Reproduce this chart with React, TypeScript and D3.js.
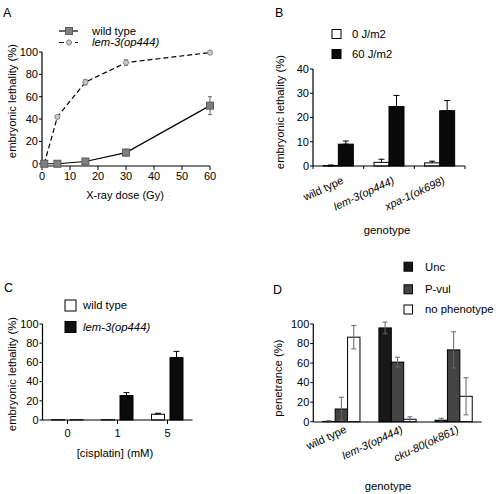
import React from "react";
import * as d3 from "d3";

// ---------- Panel A data ----------
const doseA = [0.8, 5.5, 15.5, 30, 60];
const wtA = [0, 0, 2, 10, 52];
const wtErrA = [0, 0, 1, 3, 8];
const lemA = [0, 42, 73, 90.5, 99.5];
const lemErrA = [0, 1, 2.5, 2.5, 0.5];
const xTicksA = [0, 10, 20, 30, 40, 50, 60];
const yTicksA = [0, 20, 40, 60, 80, 100];

// ---------- Panel B data ----------
const genotypesB = ["wild type", "lem-3(op444)", "xpa-1(ok698)"];
const zeroB = [0.2, 1.5, 1.3];
const zeroErrB = [0.2, 1.3, 0.7];
const sixtyB = [9, 24.5, 22.8];
const sixtyErrB = [1.3, 4.6, 4.2];
const yTicksB = [0, 10, 20, 30, 40];

// ---------- Panel C data ----------
const dosesC = ["0", "1", "5"];
const wtC = [0.3, 0.3, 6];
const wtErrC = [0, 0, 1];
const lemC = [0.2, 25.5, 65];
const lemErrC = [0, 3, 6.5];
const yTicksC = [0, 20, 40, 60, 80, 100];

// ---------- Panel D data ----------
const genotypesD = ["wild type", "lem-3(op444)", "cku-80(ok861)"];
const uncD = [0.3, 96, 1.5];
const uncErrD = [0.8, 6, 2];
const pvulD = [13, 61, 73.5];
const pvulErrD = [12, 5, 18.5];
const noD = [86.5, 2.5, 26];
const noErrD = [12, 2.5, 19];
const yTicksD = [0, 20, 40, 60, 80, 100];

const FONT = "'Liberation Sans', Arial, Helvetica, sans-serif";
const FS = 11;
const FST = 11.3;

function YAxis({ x, y, ticks, top, bottom }: any) {
  return (
    <g>
      <line x1={x} x2={x} y1={top} y2={bottom} stroke="#000" strokeWidth={1.2} />
      {ticks.map((t: number) => (
        <g key={t}>
          <line x1={x - 3} x2={x} y1={y(t)} y2={y(t)} stroke="#000" strokeWidth={1} />
          <text x={x - 4} y={y(t)} dy="0.35em" textAnchor="end" fontSize={FS}>
            {t}
          </text>
        </g>
      ))}
    </g>
  );
}

function ErrBar({ x, y0, y1, color = "#000", cap = 3, w = 1 }: any) {
  return (
    <g stroke={color} strokeWidth={w}>
      <line x1={x} x2={x} y1={y0} y2={y1} />
      <line x1={x - cap} x2={x + cap} y1={y1} y2={y1} />
      <line x1={x - cap} x2={x + cap} y1={y0} y2={y0} />
    </g>
  );
}

function PanelA() {
  const x = d3.scaleLinear().domain([0, 60]).range([42, 210]);
  const y = d3.scaleLinear().domain([-2, 100]).range([166, 52]);
  const line = d3
    .line<number>()
    .x((_, i) => x(doseA[i]))
    .y((v) => y(v));
  return (
    <g>
      <text x={3} y={17} fontSize={12.5}>A</text>
      {/* legend */}
      <line x1={59} x2={78} y1={31} y2={31} stroke="#000" strokeWidth={1.2} />
      <rect x={65.5} y={27.5} width={7} height={7} fill="#808080" stroke="#5a5a5a" />
      <text x={92} y={31} dy="0.35em" fontSize={FST}>wild type</text>
      <line x1={59} x2={78} y1={42.5} y2={42.5} stroke="#000" strokeWidth={1.2} strokeDasharray="5,3" />
      <circle cx={69} cy={42.5} r={2.6} fill="#c8c8c8" stroke="#888" />
      <text x={92} y={42.5} dy="0.35em" fontSize={FST} fontStyle="italic">lem-3(op444)</text>

      <YAxis x={42} y={y} ticks={yTicksA} top={y(100)} bottom={166} />
      <line x1={42} x2={210} y1={166} y2={166} stroke="#000" strokeWidth={1.2} />
      {xTicksA.map((t) => (
        <g key={t}>
          <line x1={x(t)} x2={x(t)} y1={166} y2={170} stroke="#000" />
          <text x={x(t)} y={180} textAnchor="middle" fontSize={FS}>{t}</text>
        </g>
      ))}
      <text x={125} y={199} textAnchor="middle" fontSize={FS}>X-ray dose (Gy)</text>
      <text transform={`translate(16,101) rotate(-90)`} textAnchor="middle" fontSize={FST}>
        embryonic lethality (%)
      </text>

      <path d={line(lemA) || ""} fill="none" stroke="#000" strokeWidth={1.2} strokeDasharray="5,3" />
      <path d={line(wtA) || ""} fill="none" stroke="#000" strokeWidth={1.2} />
      {lemA.map((v, i) =>
        lemErrA[i] > 0.6 ? (
          <ErrBar key={"le" + i} x={x(doseA[i])} y0={y(v - lemErrA[i])} y1={y(v + lemErrA[i])} color="#666" cap={2} />
        ) : null
      )}
      {wtA.map((v, i) =>
        wtErrA[i] > 0.6 ? (
          <ErrBar key={"we" + i} x={x(doseA[i])} y0={y(v - wtErrA[i])} y1={y(v + wtErrA[i])} color="#666" cap={2} />
        ) : null
      )}
      {lemA.map((v, i) => (
        <circle key={"lc" + i} cx={x(doseA[i])} cy={y(v)} r={2.6} fill="#c8c8c8" stroke="#888" />
      ))}
      {wtA.map((v, i) => (
        <rect key={"wr" + i} x={x(doseA[i]) - 3.5} y={y(v) - 3.5} width={7} height={7} fill="#808080" stroke="#5a5a5a" />
      ))}
    </g>
  );
}

function PanelB() {
  const x = d3.scaleBand<string>().domain(genotypesB).range([313, 465]);
  const y = d3.scaleLinear().domain([0, 40]).range([166, 69]);
  const bw = 15;
  const bounds = [313, ...genotypesB.map((g) => (x(g) as number) + x.bandwidth())];
  return (
    <g>
      <text x={275} y={17} fontSize={12.5}>B</text>
      <rect x={332} y={29.5} width={9} height={9} fill="#fff" stroke="#000" />
      <text x={352} y={34} dy="0.35em" fontSize={FST}>0 J/m2</text>
      <rect x={332} y={49.5} width={9} height={9} fill="#0a0a0a" stroke="#000" />
      <text x={352} y={54} dy="0.35em" fontSize={FST}>60 J/m2</text>

      {genotypesB.map((g, i) => {
        const c = (x(g) as number) + x.bandwidth() / 2;
        return (
          <g key={g}>
            <ErrBar x={c - bw / 2} y0={y(Math.max(0, zeroB[i] - zeroErrB[i]))} y1={y(zeroB[i] + zeroErrB[i])} />
            <rect x={c - bw} y={y(zeroB[i])} width={bw} height={y(0) - y(zeroB[i])} fill="#fff" stroke="#000" />
            <line x1={c - bw / 2} x2={c - bw / 2} y1={y(zeroB[i])} y2={y(zeroB[i] + zeroErrB[i])} stroke="#000" />
            <ErrBar x={c + bw / 2} y0={y(sixtyB[i])} y1={y(sixtyB[i] + sixtyErrB[i])} />
            <rect x={c} y={y(sixtyB[i])} width={bw} height={y(0) - y(sixtyB[i])} fill="#0a0a0a" stroke="#000" />
            <text
              transform={`translate(${c + 6},${183}) rotate(-25)`}
              textAnchor="end"
              fontSize={11}
              fontStyle={i === 0 ? "normal" : "italic"}
            >
              {g}
            </text>
          </g>
        );
      })}
      <YAxis x={313} y={y} ticks={yTicksB} top={y(40)} bottom={166} />
      <line x1={313} x2={465} y1={166} y2={166} stroke="#000" strokeWidth={1.2} />
      {bounds.map((b, i) => (
        <line key={i} x1={b} x2={b} y1={166} y2={169} stroke="#000" />
      ))}
      <text x={387} y={234} textAnchor="middle" fontSize={FST}>genotype</text>
      <text transform={`translate(284,112) rotate(-90)`} textAnchor="middle" fontSize={FST}>
        embryonic lethality (%)
      </text>
    </g>
  );
}

function PanelC() {
  const x = d3.scaleBand<string>().domain(dosesC).range([42.5, 192.5]);
  const y = d3.scaleLinear().domain([0, 100]).range([420, 324]);
  return (
    <g>
      <text x={4} y={292} fontSize={12.5}>C</text>
      <rect x={65} y={300} width={11} height={11} fill="#fff" stroke="#000" />
      <text x={83} y={305.5} dy="0.35em" fontSize={FST}>wild type</text>
      <rect x={65} y={321.5} width={11} height={11} fill="#111" stroke="#000" />
      <text x={83} y={327} dy="0.35em" fontSize={FST} fontStyle="italic">lem-3(op444)</text>

      {dosesC.map((d, i) => {
        const c = (x(d) as number) + x.bandwidth() / 2;
        return (
          <g key={d}>
            {wtErrC[i] > 0 && (
              <ErrBar x={c - 9.5} y0={y(wtC[i])} y1={y(wtC[i] + wtErrC[i])} />
            )}
            <rect x={c - 16} y={y(wtC[i])} width={13} height={y(0) - y(wtC[i])} fill="#fff" stroke="#000" />
            {lemErrC[i] > 0 && (
              <ErrBar x={c + 9} y0={y(lemC[i])} y1={y(lemC[i] + lemErrC[i])} />
            )}
            <rect x={c + 2.5} y={y(lemC[i])} width={13} height={y(0) - y(lemC[i])} fill="#0a0a0a" stroke="#000" />
            <line x1={c} x2={c} y1={420} y2={424} stroke="#000" />
            <text x={c} y={437} textAnchor="middle" fontSize={FS}>{d}</text>
          </g>
        );
      })}
      <YAxis x={42.5} y={y} ticks={yTicksC} top={y(100)} bottom={420} />
      <line x1={42.5} x2={192.5} y1={420} y2={420} stroke="#000" strokeWidth={1.2} />
      <text x={115} y={457} textAnchor="middle" fontSize={FST}>[cisplatin] (mM)</text>
      <text transform={`translate(15.5,374) rotate(-90)`} textAnchor="middle" fontSize={FST}>
        embryonic lethality (%)
      </text>
    </g>
  );
}

function PanelD() {
  const x = d3.scaleBand<string>().domain(genotypesD).range([313.3, 481.7]);
  const y = d3.scaleLinear().domain([0, 100]).range([421.7, 324]);
  const bw = 12.4;
  const series = [
    { v: uncD, e: uncErrD, fill: "#1a1718", off: -1.5 },
    { v: pvulD, e: pvulErrD, fill: "#444444", off: -0.5 },
    { v: noD, e: noErrD, fill: "#ffffff", off: 0.5 },
  ];
  return (
    <g>
      <text x={273} y={294} fontSize={12.5}>D</text>
      {[
        { lab: "Unc", fill: "#1a1718", cy: 266.7 },
        { lab: "P-vul", fill: "#444444", cy: 289.3 },
        { lab: "no phenotype", fill: "#ffffff", cy: 309.5 },
      ].map((l) => (
        <g key={l.lab}>
          <rect x={404} y={l.cy - 4.5} width={8.5} height={9} fill={l.fill} stroke="#000" />
          <text x={425} y={l.cy} dy="0.35em" fontSize={FST}>{l.lab}</text>
        </g>
      ))}
      {genotypesD.map((g, i) => {
        const c = (x(g) as number) + x.bandwidth() / 2;
        return (
          <g key={g}>
            {series.map((s, k) => (
              <rect
                key={k}
                x={c + s.off * bw}
                y={y(s.v[i])}
                width={bw}
                height={y(0) - y(s.v[i])}
                fill={s.fill}
                stroke="#000"
              />
            ))}
            {series.map((s, k) => (
              <ErrBar
                key={"e" + k}
                x={c + (s.off + 0.5) * bw}
                y0={y(Math.max(0, s.v[i] - s.e[i]))}
                y1={y(s.v[i] + s.e[i])}
                color="#666"
                cap={2.5}
              />
            ))}
            <text
              transform={`translate(${c + 6},${432}) rotate(-25)`}
              textAnchor="end"
              fontSize={11}
              fontStyle={i === 0 ? "normal" : "italic"}
            >
              {g}
            </text>
          </g>
        );
      })}
      <YAxis x={313.3} y={y} ticks={yTicksD} top={y(100)} bottom={422} />
      <line x1={313.3} x2={481.7} y1={422} y2={422} stroke="#000" strokeWidth={1.2} />
      <text x={388} y={490} textAnchor="middle" fontSize={FST}>genotype</text>
      <text transform={`translate(282,378) rotate(-90)`} textAnchor="middle" fontSize={FST}>
        penetrance (%)
      </text>
    </g>
  );
}

export default function App() {
  return (
    <svg
      width={496}
      height={494}
      style={{ position: "absolute", left: 0, top: 0, background: "#fff" }}
      fontFamily={FONT}
    >
      <rect width={496} height={494} fill="#fff" />
      <PanelA />
      <PanelB />
      <PanelC />
      <PanelD />
    </svg>
  );
}
